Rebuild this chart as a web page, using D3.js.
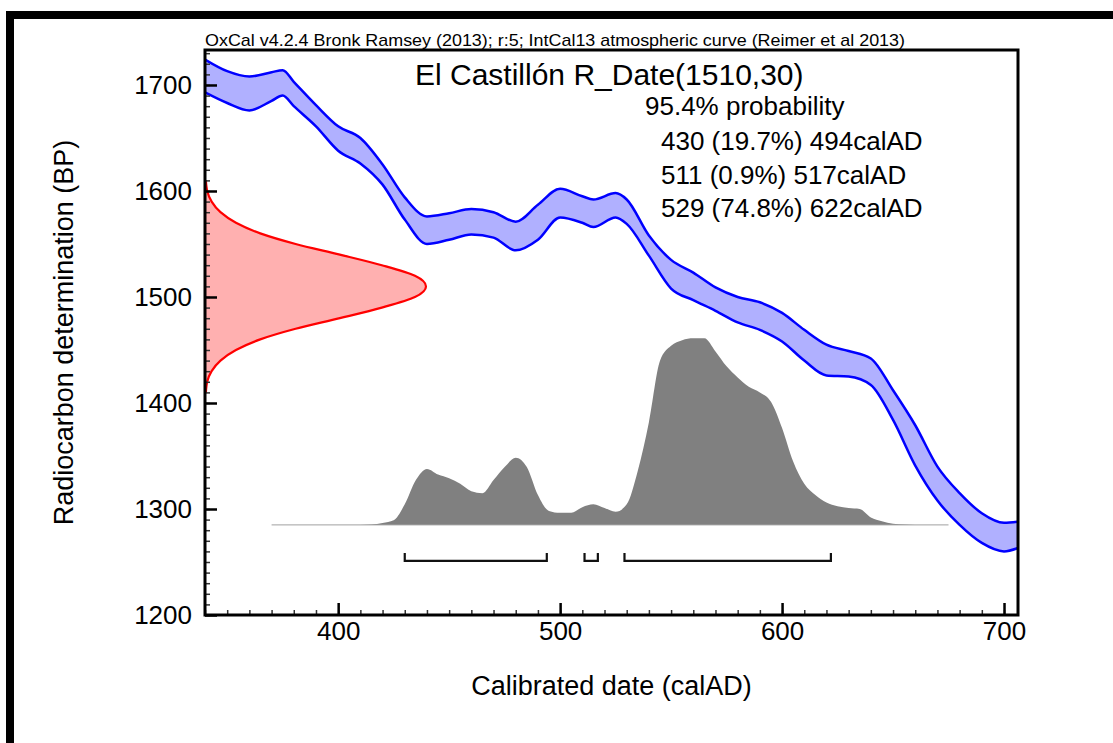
<!DOCTYPE html>
<html>
<head>
<meta charset="utf-8">
<script src="https://cdn.jsdelivr.net/npm/d3@7"></script>
<style>
  body { margin: 0; background: #fff; }
  svg { display: block; }
  text { font-family: 'Liberation Sans', Arial, sans-serif; fill: #000; }
</style>
</head>
<body>
<div id="chart"></div>
<script>
// IntCal13 band (calendar year, upper and lower BP edge)
const calYears = [340, 350, 360, 370, 375, 380, 390, 400, 410, 420, 430, 440, 450, 460, 470, 480, 490, 500,
  510, 515, 525, 530, 540, 550, 560, 570, 580, 590, 600, 610, 620, 630, 640, 650, 660, 670, 680, 690, 700, 706];
const curveUpper = [1724, 1713, 1708, 1712, 1714, 1703, 1681, 1661, 1650, 1625, 1594, 1576, 1579, 1583, 1580, 1571, 1587, 1602,
  1595, 1592, 1598, 1592, 1558, 1535, 1523, 1509, 1500, 1495, 1485, 1469, 1455, 1449, 1442, 1412, 1379, 1340, 1315, 1296, 1287, 1288];
const curveLower = [1693, 1683, 1676, 1685, 1690, 1680, 1661, 1638, 1626, 1606, 1573, 1550, 1554, 1559, 1556, 1544, 1554, 1575,
  1570, 1566, 1575, 1569, 1539, 1508, 1497, 1487, 1476, 1469, 1458, 1440, 1426, 1425, 1417, 1384, 1341, 1308, 1285, 1268, 1260, 1263];

// radiocarbon measurement (BP vs relative likelihood)
const likeBP = [1410, 1420, 1430, 1440, 1450, 1460, 1470, 1480, 1490, 1500, 1510, 1520, 1530, 1540, 1550, 1560, 1570, 1580, 1590, 1600, 1610];
const likeDensity = [0.004, 0.01, 0.03, 0.07, 0.14, 0.25, 0.41, 0.61, 0.80, 0.95, 1.0, 0.95, 0.80, 0.61, 0.41, 0.25, 0.14, 0.07, 0.03, 0.01, 0.004];

// calibrated distribution (calAD vs relative probability)
const postYears = [370, 410, 415, 420, 425, 430, 435, 440, 445, 450, 455, 460, 465, 470, 475, 480, 485, 490, 495, 500,
  505, 510, 515, 520, 525, 530, 535, 540, 545, 550, 555, 560, 565, 570, 575, 580, 585, 590, 595, 600,
  605, 610, 615, 620, 625, 630, 635, 640, 645, 650, 655, 660, 675];
const postProb = [0, 0, 0.002, 0.01, 0.025, 0.11, 0.24, 0.30, 0.27, 0.25, 0.22, 0.18, 0.17, 0.24, 0.31, 0.36, 0.31, 0.16, 0.075, 0.065,
  0.065, 0.095, 0.11, 0.09, 0.07, 0.11, 0.29, 0.55, 0.88, 0.96, 0.99, 1.0, 1.0, 0.93, 0.85, 0.79, 0.74, 0.71, 0.66, 0.52,
  0.34, 0.22, 0.16, 0.12, 0.10, 0.09, 0.085, 0.04, 0.02, 0.006, 0.002, 0, 0];

// 95.4% ranges
const rangeFrom = [430, 511, 529];
const rangeTo = [494, 517, 622];
const rangePct = ['19.7%', '0.9%', '74.8%'];

const xMajor = [400, 500, 600, 700];
const yMajor = [1200, 1300, 1400, 1500, 1600, 1700];

const width = 1113;
const height = 743;
const plotLeft = 205, plotRight = 1018, plotTop = 50, plotBottom = 615;

const svg = d3.select('#chart').append('svg')
  .attr('width', width)
  .attr('height', height);

svg.append('rect').attr('width', width).attr('height', height).attr('fill', '#fff');

// outer black frame (only top and left visible)
svg.append('rect')
  .attr('x', 10).attr('y', 15)
  .attr('width', 1300).attr('height', 900)
  .attr('fill', 'none')
  .attr('stroke', '#000')
  .attr('stroke-width', 8);

const x = d3.scaleLinear().domain([340, 706.3]).range([plotLeft, plotRight]);
const y = d3.scaleLinear().domain([1200, 1733]).range([plotBottom, plotTop]);

svg.append('clipPath').attr('id', 'plot-clip')
  .append('rect')
  .attr('x', plotLeft).attr('y', plotTop)
  .attr('width', plotRight - plotLeft).attr('height', plotBottom - plotTop);

const plot = svg.append('g').attr('clip-path', 'url(#plot-clip)');

// calibration curve band
const band = calYears.map((yr, i) => ({ yr, hi: curveUpper[i], lo: curveLower[i] }));

plot.append('path')
  .datum(band)
  .attr('fill', '#b0b0ff')
  .attr('d', d3.area()
    .curve(d3.curveMonotoneX)
    .x(d => x(d.yr))
    .y0(d => y(d.lo))
    .y1(d => y(d.hi)));

[d => d.hi, d => d.lo].forEach(acc => {
  plot.append('path')
    .datum(band)
    .attr('fill', 'none')
    .attr('stroke', '#0000ff')
    .attr('stroke-width', 2.5)
    .attr('stroke-linejoin', 'round')
    .attr('d', d3.line()
      .curve(d3.curveMonotoneX)
      .x(d => x(d.yr))
      .y(d => y(acc(d))));
});

// measurement likelihood on the y axis
const likeX = d3.scaleLinear().domain([0, 1]).range([plotLeft, plotLeft + 221]);
const like = likeBP.map((bp, i) => ({ bp, p: likeDensity[i] }));

plot.append('path')
  .datum(like)
  .attr('fill', '#ffb0b0')
  .attr('d', d3.area()
    .curve(d3.curveMonotoneY)
    .y(d => y(d.bp))
    .x0(plotLeft)
    .x1(d => likeX(d.p)));

plot.append('path')
  .datum(like)
  .attr('fill', 'none')
  .attr('stroke', '#ff0000')
  .attr('stroke-width', 2.2)
  .attr('d', d3.line()
    .curve(d3.curveMonotoneY)
    .y(d => y(d.bp))
    .x(d => likeX(d.p)));

// calibrated distribution on the x axis
const probY = d3.scaleLinear().domain([0, 1]).range([y(1285), y(1461)]);
const post = postYears.map((yr, i) => ({ yr, p: postProb[i] }));

plot.append('path')
  .datum(post)
  .attr('fill', '#808080')
  .attr('d', d3.area()
    .curve(d3.curveMonotoneX)
    .x(d => x(d.yr))
    .y0(probY(0))
    .y1(d => probY(d.p)));

plot.append('line')
  .attr('x1', x(d3.min(postYears))).attr('x2', x(d3.max(postYears)))
  .attr('y1', probY(0)).attr('y2', probY(0))
  .attr('stroke', '#a0a0a0')
  .attr('stroke-width', 1);

// range brackets
const bracketY = y(1251);
rangeFrom.forEach((from, i) => {
  plot.append('path')
    .attr('fill', 'none')
    .attr('stroke', '#111')
    .attr('stroke-width', 2.2)
    .attr('d', `M${x(from)},${bracketY - 8}V${bracketY}H${x(rangeTo[i])}V${bracketY - 8}`);
});

// axes
const yAxisMinor = d3.axisLeft(y).tickValues(d3.range(1200, 1734, 10)).tickSize(-5).tickFormat('');
const xAxisMinor = d3.axisBottom(x).tickValues(d3.range(340, 707, 10)).tickSize(-5).tickFormat('');

svg.append('g').attr('transform', `translate(${plotLeft},0)`).call(yAxisMinor)
  .call(g => g.select('.domain').remove())
  .call(g => g.selectAll('line').attr('stroke', '#333').attr('stroke-width', 1.5));
svg.append('g').attr('transform', `translate(0,${plotBottom})`).call(xAxisMinor)
  .call(g => g.select('.domain').remove())
  .call(g => g.selectAll('line').attr('stroke', '#333').attr('stroke-width', 1.5));

const yAxis = d3.axisLeft(y).tickValues(yMajor).tickSize(-12).tickPadding(13).tickFormat(d3.format('d'));
const xAxis = d3.axisBottom(x).tickValues(xMajor).tickSize(-12).tickPadding(7).tickFormat(d3.format('d'));

svg.append('g').attr('transform', `translate(${plotLeft},0)`).call(yAxis)
  .call(g => g.select('.domain').remove())
  .call(g => g.selectAll('line').attr('stroke', '#000').attr('stroke-width', 2.5))
  .call(g => g.selectAll('text').style('font-size', '26px').attr('fill', '#000'));
svg.append('g').attr('transform', `translate(0,${plotBottom})`).call(xAxis)
  .call(g => g.select('.domain').remove())
  .call(g => g.selectAll('line').attr('stroke', '#000').attr('stroke-width', 2.5))
  .call(g => g.selectAll('text').style('font-size', '26px').attr('fill', '#000'));

// plot frame
svg.append('rect')
  .attr('x', plotLeft).attr('y', plotTop)
  .attr('width', plotRight - plotLeft).attr('height', plotBottom - plotTop)
  .attr('fill', 'none')
  .attr('stroke', '#000')
  .attr('stroke-width', 3);

// axis titles
svg.append('text')
  .attr('transform', `translate(73,${(plotTop + plotBottom) / 2}) rotate(-90)`)
  .attr('text-anchor', 'middle')
  .style('font-size', '27px')
  .text('Radiocarbon determination (BP)');

svg.append('text')
  .attr('x', (plotLeft + plotRight) / 2).attr('y', 695)
  .attr('text-anchor', 'middle')
  .style('font-size', '27px')
  .text('Calibrated date (calAD)');

// header and annotations
svg.append('text')
  .attr('x', plotLeft).attr('y', 46)
  .style('font-size', '17px')
  .attr('textLength', 700)
  .attr('lengthAdjust', 'spacingAndGlyphs')
  .attr('fill', '#111')
  .text('OxCal v4.2.4 Bronk Ramsey (2013); r:5; IntCal13 atmospheric curve (Reimer et al 2013)');

svg.append('text')
  .attr('x', 415).attr('y', 85)
  .style('font-size', '30px')
  .text('El Castillón R_Date(1510,30)');

svg.append('text')
  .attr('x', 645).attr('y', 115)
  .style('font-size', '26px')
  .text('95.4% probability');

rangeFrom.forEach((from, i) => {
  svg.append('text')
    .attr('x', 661).attr('y', 150 + i * 33.5)
    .style('font-size', '26px')
    .text(`${from} (${rangePct[i]}) ${rangeTo[i]}calAD`);
});
</script>
</body>
</html>
